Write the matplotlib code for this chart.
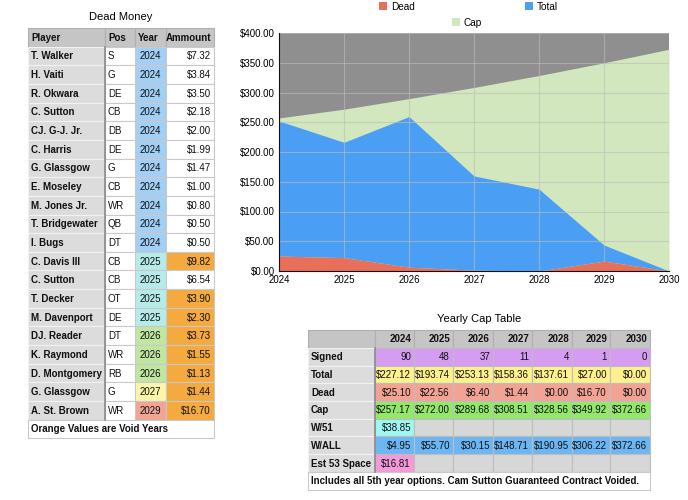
import matplotlib
matplotlib.use('Agg')
import matplotlib.pyplot as plt
from matplotlib.patches import Rectangle
from matplotlib.ticker import FuncFormatter

plt.rcParams['font.family'] = ['Liberation Sans', 'DejaVu Sans']

# dead money table
players = ['T. Walker', 'H. Vaiti', 'R. Okwara', 'C. Sutton', 'CJ. G-J. Jr.', 'C. Harris',
           'G. Glassgow', 'E. Moseley', 'M. Jones Jr.', 'T. Bridgewater', 'I. Bugs',
           'C. Davis III', 'C. Sutton', 'T. Decker', 'M. Davenport', 'DJ. Reader',
           'K. Raymond', 'D. Montgomery', 'G. Glassgow', 'A. St. Brown']
positions = ['S', 'G', 'DE', 'CB', 'DB', 'DE', 'G', 'CB', 'WR', 'QB', 'DT',
             'CB', 'CB', 'OT', 'DE', 'DT', 'WR', 'RB', 'G', 'WR']
dm_years = [2024] * 11 + [2025, 2025, 2025, 2025, 2026, 2026, 2026, 2027, 2029]
amounts = [7.32, 3.84, 3.50, 2.18, 2.00, 1.99, 1.47, 1.00, 0.80, 0.50, 0.50,
           9.82, 6.54, 3.90, 2.30, 3.73, 1.55, 1.13, 1.44, 16.70]
void = [False] * 11 + [True, False, True, True, True, True, True, True, True]

# yearly cap table / chart
years = [2024, 2025, 2026, 2027, 2028, 2029, 2030]
signed = [90, 48, 37, 11, 4, 1, 0]
total = [227.12, 193.74, 253.13, 158.36, 137.61, 27.00, 0.00]
dead = [25.10, 22.56, 6.40, 1.44, 0.00, 16.70, 0.00]
cap = [257.17, 272.00, 289.68, 308.51, 328.56, 349.92, 372.66]
w51 = [38.85]
wall = [4.95, 55.70, 30.15, 148.71, 190.95, 306.22, 372.66]
est53 = [16.81]

YEAR_COLORS = {2024: '#a3cff5', 2025: '#b5ecea', 2026: '#c0e6a2',
               2027: '#fdf6aa', 2029: '#f1a597'}
ORANGE = '#f4aa3f'
HDR = '#c5c5c5'
LBL = '#dcdcdc'
FS = 7.0

fig = plt.figure(figsize=(6.88, 5.0), dpi=100)
ov = fig.add_axes([0, 0, 1, 1])
ov.set_xlim(0, 688)
ov.set_ylim(500, 0)
ov.axis('off')


def cell(x0, x1, y0, y1, color, text='', ha='left', bold=False, edge='#c9c9c9'):
    ov.add_patch(Rectangle((x0, y0), x1 - x0, y1 - y0, facecolor=color,
                           edgecolor=edge, linewidth=0.8))
    if text:
        if ha == 'left':
            tx = x0 + 3
        elif ha == 'right':
            tx = x1 - 3
        else:
            tx = (x0 + x1) / 2
        ov.text(tx, (y0 + y1) / 2 + 0.5, text, ha=ha, va='center', fontsize=FS,
                fontweight='bold' if bold else 'normal', color='#111111')


# ---- Dead Money table
cols = [28, 105, 135, 166, 214]
top, rh = 28, 18.65
ov.text(121, 17, 'Dead Money', ha='center', va='center', fontsize=8)
heads = ['Player', 'Pos', 'Year', 'Ammount']
has = ['left', 'left', 'left', 'right']
for j, h in enumerate(heads):
    cell(cols[j], cols[j + 1], top, top + rh, HDR, h, has[j], bold=True, edge='#b0b0b0')
for i in range(len(players)):
    y0 = top + rh * (i + 1)
    y1 = y0 + rh
    cell(cols[0], cols[1], y0, y1, LBL, players[i], 'left', bold=True, edge='#f2f2f2')
    cell(cols[1], cols[2], y0, y1, 'white', positions[i], 'left')
    cell(cols[2], cols[3], y0, y1, YEAR_COLORS[dm_years[i]], str(dm_years[i]), 'center')
    cell(cols[3], cols[4], y0, y1, ORANGE if void[i] else 'white',
         f'${amounts[i]:.2f}', 'right')
yb = top + rh * (len(players) + 1)
ov.plot([cols[1], cols[1]], [top + rh, yb], color='#8a8a8a', lw=1.2)
cell(cols[0], cols[4], yb, yb + 18.5, 'white', 'Orange Values are Void Years', 'left', bold=True)

# ---- Yearly Cap table
cx = [308, 375, 414, 453, 493, 532, 572, 610, 650]
ct, crh = 332, 17.7
ov.text(479, 319, 'Yearly Cap Table', ha='center', va='center', fontsize=8)
cell(cx[0], cx[1], ct - 2, ct + 16, HDR, edge='#b0b0b0')
for j, yr in enumerate(years):
    cell(cx[j + 1], cx[j + 2], ct - 2, ct + 16, HDR, str(yr), 'right', bold=True, edge='#b0b0b0')

rows = [('Signed', [str(v) for v in signed], '#d59df1'),
        ('Total', [f'${v:.2f}' for v in total], '#fdf08d'),
        ('Dead', [f'${v:.2f}' for v in dead], '#f2a394'),
        ('Cap', [f'${v:.2f}' for v in cap], '#93e86c'),
        ('W/51', [f'${v:.2f}' for v in w51], '#a0f6f0'),
        ('W/ALL', [f'${v:.2f}' for v in wall], '#6cb7f3'),
        ('Est 53 Space', [f'${v:.2f}' for v in est53], '#f29bd9')]
y = ct + 16
for name, vals, col in rows:
    cell(cx[0], cx[1], y, y + crh, LBL, name, 'left', bold=True, edge='#f2f2f2')
    for j in range(len(years)):
        if j < len(vals):
            cell(cx[j + 1], cx[j + 2], y, y + crh, col, vals[j], 'right', edge='#bdbdbd')
        else:
            cell(cx[j + 1], cx[j + 2], y, y + crh, '#d7d7d7', edge='#bdbdbd')
    y += crh
ov.plot([cx[1], cx[1]], [ct + 16, y], color='#8a8a8a', lw=1.2)
cell(cx[0], cx[-1], y, y + 18, 'white',
     'Includes all 5th year options. Cam Sutton Guaranteed Contract Voided.', 'left', bold=True)

# ---- area chart
ax = fig.add_axes([279 / 688, 1 - 271 / 500, 390 / 688, 238 / 500])
ax.set_facecolor('#8f8f8f')
stack = [d + t for d, t in zip(dead, total)]
ax.fill_between(years, 0, cap, color='#d2e7be', lw=0, zorder=1)
ax.fill_between(years, dead, stack, color='#4a9ff4', lw=0, zorder=2)
ax.fill_between(years, 0, dead, color='#e8705a', lw=0, zorder=3)
ax.grid(True, color='#bdbdbd', lw=0.8, zorder=4)
ax.set_axisbelow(False)
for g in ax.get_xgridlines() + ax.get_ygridlines():
    g.set_alpha(0.6)
ax.set_xlim(2024, 2030)
ax.set_ylim(0, 400)
ax.set_yticks(range(0, 401, 50))
ax.set_xticks(years)
ax.yaxis.set_major_formatter(FuncFormatter(lambda v, p: f'${v:.2f}'))
ax.tick_params(length=0, labelsize=7.0, pad=3)
for s in ['top', 'right']:
    ax.spines[s].set_visible(False)
ax.spines['left'].set_color('#111111')
ax.spines['bottom'].set_color('#111111')
ax.spines['left'].set_zorder(6)
ax.spines['bottom'].set_zorder(6)

# legend
for lx, ly, c, lab in [(383, 6, '#e8705a', 'Dead'), (529, 6, '#4a9ff4', 'Total'),
                       (456, 22, '#d2e7be', 'Cap')]:
    ov.add_patch(Rectangle((lx - 4, ly - 4), 8, 8, facecolor=c, edgecolor='none'))
    ov.text(lx + 8, ly + 0.5, lab, ha='left', va='center', fontsize=7.2)

fig.savefig('out.png', dpi=100)
